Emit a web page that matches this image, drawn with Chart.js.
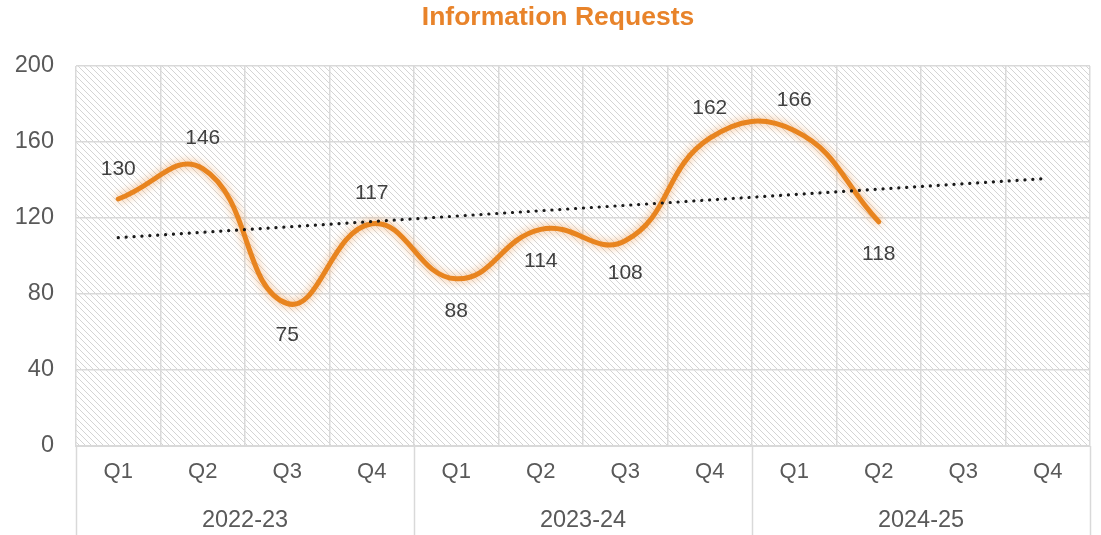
<!DOCTYPE html>
<html>
<head>
<meta charset="utf-8">
<script src="https://cdn.jsdelivr.net/npm/chart.js@4/dist/chart.umd.min.js"></script>
<style>
  html, body { margin: 0; padding: 0; background: #fff; }
  #wrap { width: 1101px; height: 535px; }
</style>
</head>
<body>
<div id="wrap"><canvas id="myChart" width="1101" height="535"></canvas></div>
<script>
// data
const quarters = ["Q1", "Q2", "Q3", "Q4", "Q1", "Q2", "Q3", "Q4", "Q1", "Q2", "Q3", "Q4"];
const years = ["2022-23", "2023-24", "2024-25"];
const requests = [130, 146, 75, 117, 88, 114, 108, 162, 166, 118, null, null];
// linear trend, start and end values
const trend = [109.7, null, null, null, null, null, null, null, null, null, null, 140.8];
const labelSide = ["up", "up", "down", "up", "down", "down", "down", "up", "up", "down"];
const yTicks = [0, 40, 80, 120, 160, 200];
const chartTitle = "Information Requests";

const FONT = "'Liberation Sans', Arial, sans-serif";
const gridColor = "#d9d9d9";

// diagonal hatch for the plot area
function makeHatch() {
  const c = document.createElement("canvas");
  c.width = 6; c.height = 6;
  const g = c.getContext("2d");
  g.strokeStyle = "#d4d4d4";
  g.lineWidth = 1;
  g.beginPath();
  g.moveTo(-1, -1); g.lineTo(7, 7);
  g.moveTo(-1, 5); g.lineTo(1, 7);
  g.moveTo(5, -1); g.lineTo(7, 1);
  g.stroke();
  return g.createPattern(c, "repeat");
}

const hatchPlugin = {
  id: "hatch",
  beforeDraw(chart) {
    const { ctx, chartArea: a } = chart;
    ctx.save();
    ctx.fillStyle = "#fff";
    ctx.fillRect(0, 0, chart.width, chart.height);
    ctx.fillStyle = makeHatch();
    ctx.fillRect(a.left, a.top, a.right - a.left, a.bottom - a.top);
    // title, centred a bit right of the canvas middle like the original
    ctx.font = "bold 26.5px " + FONT;
    ctx.fillStyle = "#E8832A";
    ctx.textAlign = "center";
    ctx.textBaseline = "middle";
    ctx.fillText(chartTitle, 558, 18);
    ctx.restore();
  }
};

const glowPlugin = {
  id: "glow",
  beforeDatasetDraw(chart, args) {
    if (args.index !== 0) return;
    chart.ctx.save();
    chart.ctx.shadowColor = "rgba(240,150,70,0.75)";
    chart.ctx.shadowBlur = 9;
  },
  afterDatasetDraw(chart, args) {
    if (args.index !== 0) return;
    chart.ctx.restore();
  }
};

const valueLabels = {
  id: "valueLabels",
  afterDatasetsDraw(chart) {
    const { ctx } = chart;
    const meta = chart.getDatasetMeta(0);
    ctx.save();
    ctx.font = "21px " + FONT;
    ctx.fillStyle = "#404040";
    ctx.textAlign = "center";
    ctx.textBaseline = "middle";
    meta.data.forEach((pt, i) => {
      const v = requests[i];
      if (v == null) return;
      const dy = labelSide[i] === "up" ? -30 : 32;
      ctx.fillText(String(v), pt.x, pt.y + dy);
    });
    ctx.restore();
  }
};

// year separators under the axis
const separators = {
  id: "separators",
  afterDraw(chart) {
    const { ctx, chartArea: a } = chart;
    const x = chart.scales.x;
    const half = (x.getPixelForValue(1) - x.getPixelForValue(0)) / 2;
    ctx.save();
    ctx.strokeStyle = gridColor;
    ctx.lineWidth = 1.5;
    [0, 4, 8, 12].forEach(i => {
      const px = Math.round(x.getPixelForValue(i) - half) + 0.5;
      ctx.beginPath();
      ctx.moveTo(px, a.bottom);
      ctx.lineTo(px, chart.height);
      ctx.stroke();
    });
    ctx.restore();
  }
};

new Chart(document.getElementById("myChart").getContext("2d"), {
  type: "line",
  data: {
    labels: quarters,
    datasets: [
      {
        label: chartTitle,
        data: requests,
        borderColor: "#E8841F",
        borderWidth: 5,
        tension: 0.45,
        pointRadius: 0,
        borderCapStyle: "round",
        order: 1
      },
      {
        label: "Trend",
        data: trend,
        spanGaps: true,
        borderColor: "#1a1a1a",
        borderWidth: 3.2,
        borderDash: [0.1, 7.8],
        borderCapStyle: "round",
        pointRadius: 0,
        order: 0
      }
    ]
  },
  options: {
    responsive: false,
    animation: false,
    layout: { padding: { left: 0, right: 11, top: 66, bottom: 0 } },
    plugins: {
      legend: { display: false },
      tooltip: { enabled: false },
      title: { display: false }
    },
    scales: {
      x: {
        offset: true,
        afterFit(scale) { scale.height = 48; },
        grid: { offset: true, color: gridColor, lineWidth: 1.5, drawTicks: false },
        border: { color: gridColor, width: 2 },
        ticks: { color: "#595959", font: { family: FONT, size: 22 }, padding: 13, maxRotation: 0 }
      },
      x2: {
        type: "category",
        labels: years,
        position: "bottom",
        offset: true,
        weight: 1,
        afterFit(scale) { scale.height = 41; },
        grid: { display: false },
        border: { display: false },
        ticks: { color: "#595959", font: { family: FONT, size: 23.5 }, padding: 4, maxRotation: 0 }
      },
      y: {
        min: 0,
        max: 200,
        afterFit(scale) { scale.width = 76; },
        afterBuildTicks(scale) { scale.ticks = yTicks.map(v => ({ value: v })); },
        grid: { color: gridColor, lineWidth: 1.5, drawTicks: false },
        border: { display: false },
        ticks: { color: "#595959", font: { family: FONT, size: 23.5 }, padding: 22 }
      }
    }
  },
  plugins: [hatchPlugin, glowPlugin, valueLabels, separators]
});
</script>
</body>
</html>
